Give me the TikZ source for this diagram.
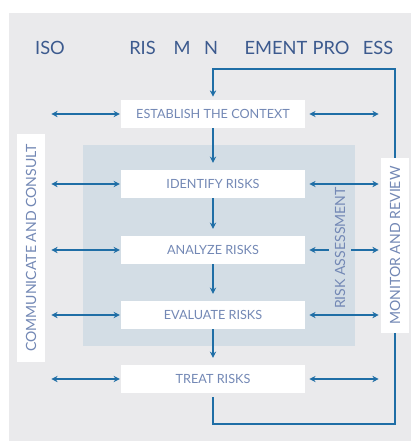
\documentclass[tikz,border=0pt]{standalone}
\usepackage{fontspec}
\setmainfont{Lato}
\usetikzlibrary{arrows.meta}

\definecolor{pagegrey}{HTML}{EAEAEC}
\definecolor{assessgrey}{HTML}{D3DDE5}
\definecolor{linkblue}{HTML}{1F6EA6}
\definecolor{titleblue}{HTML}{3C5A8E}
\definecolor{labelblue}{HTML}{7388B5}

\tikzset{
  stepbox/.style={fill=white, minimum width=4.6cm, minimum height=0.7cm, inner sep=0pt,
    text=labelblue, font=\fontsize{9}{10}\selectfont},
  sidebox/.style={fill=white, rotate=90, minimum height=0.7cm, inner sep=0pt,
    text=labelblue, font=\fontsize{10}{11}\selectfont},
  heading/.style={text=titleblue, font=\fontsize{13}{14}\selectfont},
  link/.style={draw=linkblue, line width=0.9pt},
  flow/.style={link, -{Stealth[length=4.5pt,width=4.5pt]}},
  both/.style={link, {Stealth[length=4.5pt,width=4.5pt]}-{Stealth[length=4.5pt,width=4.5pt]}}
}

\begin{document}
\begin{tikzpicture}[x=0.025cm, y=-0.025cm]
\useasboundingbox (0,0) rectangle (411,441);
\fill[pagegrey] (9,13) rectangle (411,441);
\fill[assessgrey] (83,145) rectangle (355,346);

\node[heading] (tiso) at (50,48) {ISO};
\node[heading] (tris) at (142.5,48) {RIS};
\node[heading] (tm) at (182,48) {M};
\node[heading] (tn) at (211,48) {N};
\node[heading] (tement) at (276,48) {EMENT};
\node[heading] (tpro) at (331,48) {PRO};
\node[heading] (tess) at (378,48) {ESS};

\node[stepbox] (est) at (213,114) {ESTABLISH THE CONTEXT};
\node[stepbox] (idf) at (213,184) {IDENTIFY RISKS};
\node[stepbox] (ana) at (213,250) {ANALYZE RISKS};
\node[stepbox] (eva) at (213,315) {EVALUATE RISKS};
\node[stepbox] (trt) at (213,379) {TREAT RISKS};

\node[sidebox, minimum width=5.7cm] (comm) at (31,248) {COMMUNICATE AND CONSULT};
\node[sidebox, minimum width=4.375cm] (mon) at (395,245.5) {MONITOR AND REVIEW};

\draw[flow, shorten >=0.17cm] (est) -- (idf);
\draw[flow, shorten >=0.17cm] (idf) -- (ana);
\draw[flow, shorten >=0.17cm] (ana) -- (eva);
\draw[flow, shorten >=0.17cm] (eva) -- (trt);

\draw[both, shorten <=0.15cm, shorten >=0.02cm] (comm.south |- est.west) -- (est.west);
\draw[both, shorten <=0.15cm, shorten >=0.02cm] (comm.south |- idf.west) -- (idf.west);
\draw[both, shorten <=0.15cm, shorten >=0.02cm] (comm.south |- ana.west) -- (ana.west);
\draw[both, shorten <=0.15cm, shorten >=0.02cm] (comm.south |- eva.west) -- (eva.west);
\draw[both, shorten <=0.15cm, shorten >=0.02cm] (comm.south |- trt.west) -- (trt.west);

\draw[both, shorten <=0.1cm, shorten >=0.05cm] (est.east) -- (mon.north |- est.east);
\draw[both, shorten <=0.1cm, shorten >=0.05cm] (idf.east) -- (mon.north |- idf.east);
\draw[both, shorten <=0.1cm, shorten >=0.05cm] (ana.east) -- (mon.north |- ana.east);
\draw[both, shorten <=0.1cm, shorten >=0.05cm] (eva.east) -- (mon.north |- eva.east);
\draw[both, shorten <=0.1cm, shorten >=0.05cm] (trt.east) -- (mon.north |- trt.east);

\node[rotate=90, fill=assessgrey, inner xsep=1pt, inner ysep=4.5pt, text=labelblue,
  font=\fontsize{10}{11}\selectfont] (assess) at (340,248) {RISK ASSESSMENT};

\coordinate (lowturn) at (395,424);
\coordinate (highturn) at (395,69);
\draw[link, shorten <=0.1cm] (trt.south) |- (lowturn) -- (mon.west);
\draw[flow, shorten >=0.075cm] (mon.east) -- (highturn) -| (est.north);
\end{tikzpicture}
\end{document}
